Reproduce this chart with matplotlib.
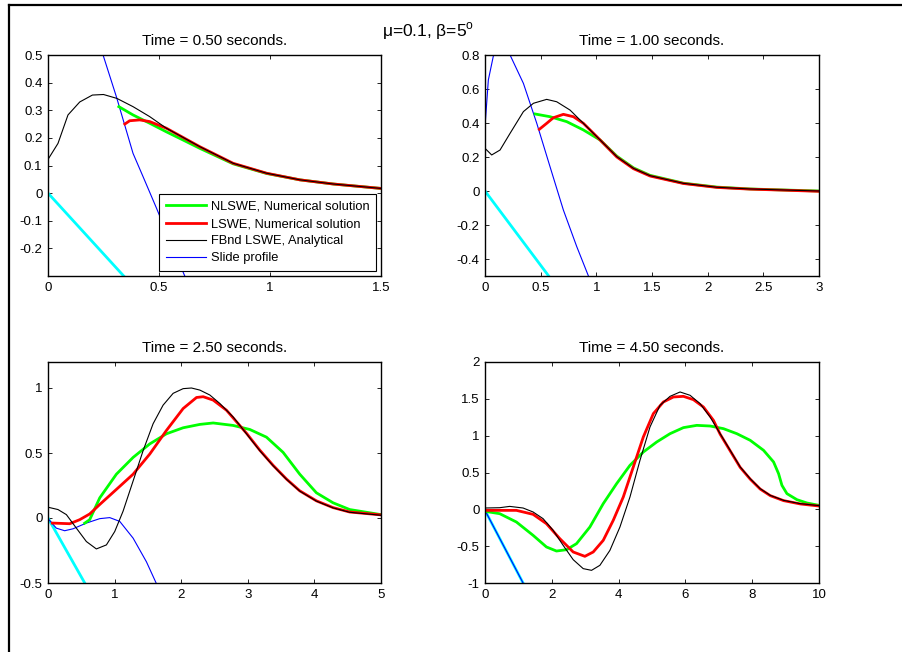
import matplotlib
matplotlib.use("Agg")
import matplotlib.pyplot as plt
from matplotlib.lines import Line2D

plt.rcParams['font.family'] = ['Liberation Sans', 'DejaVu Sans']
plt.rcParams['mathtext.fontset'] = 'custom'
plt.rcParams['mathtext.rm'] = 'Liberation Sans'

# ---- data ----
# t = 0.50 s
p1_black_x = [0, 0.045, 0.09, 0.143, 0.2, 0.25, 0.31, 0.383, 0.458, 0.533, 0.684, 0.834, 0.985, 1.135, 1.285, 1.5]
p1_black_y = [0.122, 0.18, 0.283, 0.33, 0.355, 0.357, 0.343, 0.313, 0.277, 0.235, 0.168, 0.108, 0.072, 0.048, 0.033, 0.017]
p1_green_x = [0.319, 0.383, 0.458, 0.533, 0.609, 0.684, 0.834, 0.985, 1.135, 1.285, 1.5]
p1_green_y = [0.313, 0.283, 0.253, 0.222, 0.192, 0.162, 0.106, 0.071, 0.048, 0.033, 0.017]
p1_red_x = [0.346, 0.368, 0.413, 0.458, 0.533, 0.684, 0.834, 0.985, 1.135, 1.285, 1.5]
p1_red_y = [0.25, 0.262, 0.265, 0.259, 0.235, 0.168, 0.108, 0.072, 0.048, 0.033, 0.017]
p1_blue_x = [0.248, 0.308, 0.383, 0.428, 0.489, 0.55, 0.616]
p1_blue_y = [0.5, 0.349, 0.144, 0.06, -0.055, -0.175, -0.3]
p1_cyan_x = [0, 0.341]
p1_cyan_y = [0, -0.3]

# t = 1.00 s
p2_black_x = [0, 0.06, 0.135, 0.225, 0.345, 0.435, 0.554, 0.644, 0.764, 0.884, 1.004, 1.184, 1.334, 1.483, 1.783, 2.083, 2.38, 2.68, 3.0]
p2_black_y = [0.251, 0.212, 0.241, 0.339, 0.467, 0.516, 0.539, 0.525, 0.476, 0.398, 0.32, 0.202, 0.133, 0.09, 0.045, 0.022, 0.012, 0.006, 0.0]
p2_green_x = [0.45, 0.584, 0.734, 0.884, 1.034, 1.184, 1.334, 1.483, 1.783, 2.083, 2.38, 2.68, 3.0]
p2_green_y = [0.453, 0.437, 0.408, 0.359, 0.3, 0.205, 0.136, 0.092, 0.046, 0.023, 0.012, 0.006, 0.0]
p2_red_x = [0.488, 0.554, 0.614, 0.704, 0.794, 0.884, 1.004, 1.184, 1.334, 1.483, 1.783, 2.083, 2.38, 2.68, 3.0]
p2_red_y = [0.363, 0.398, 0.431, 0.451, 0.437, 0.398, 0.32, 0.2, 0.131, 0.088, 0.044, 0.021, 0.011, 0.005, -0.002]
p2_blue_x = [0, 0.03, 0.075, 0.15, 0.225, 0.345, 0.465, 0.584, 0.704, 0.824, 0.929]
p2_blue_y = [0.378, 0.653, 0.794, 0.85, 0.8, 0.633, 0.398, 0.143, -0.112, -0.327, -0.5]
p2_cyan_x = [0, 0.572]
p2_cyan_y = [0, -0.5]

# t = 2.50 s
p3_black_x = [0, 0.15, 0.276, 0.426, 0.576, 0.726, 0.877, 1.002, 1.127, 1.278, 1.428, 1.578, 1.728, 1.879, 2.029, 2.154, 2.28, 2.43, 2.58, 2.78, 2.98, 3.18, 3.38, 3.58, 3.78, 4.03, 4.28, 4.53, 5.0]
p3_black_y = [0.083, 0.065, 0.026, -0.078, -0.181, -0.238, -0.207, -0.104, 0.052, 0.285, 0.518, 0.725, 0.868, 0.959, 0.995, 1.0, 0.984, 0.946, 0.881, 0.777, 0.648, 0.518, 0.402, 0.298, 0.207, 0.13, 0.078, 0.044, 0.021]
p3_red_x = [0.065, 0.326, 0.476, 0.626, 0.777, 1.027, 1.278, 1.528, 1.779, 2.029, 2.23, 2.33, 2.48, 2.68, 2.98, 3.18, 3.38, 3.58, 3.78, 4.03, 4.28, 4.53, 5.0]
p3_red_y = [-0.039, -0.044, -0.013, 0.031, 0.104, 0.22, 0.337, 0.492, 0.674, 0.842, 0.927, 0.933, 0.907, 0.829, 0.652, 0.522, 0.405, 0.3, 0.209, 0.132, 0.08, 0.046, 0.024]
p3_green_x = [0.55, 0.626, 0.777, 1.027, 1.278, 1.528, 1.779, 2.029, 2.28, 2.48, 2.78, 3.03, 3.28, 3.53, 3.78, 4.03, 4.28, 4.53, 5.0]
p3_green_y = [-0.04, -0.013, 0.155, 0.337, 0.466, 0.57, 0.648, 0.694, 0.72, 0.731, 0.712, 0.681, 0.622, 0.505, 0.337, 0.194, 0.117, 0.065, 0.026]
p3_blue_x = [0, 0.125, 0.25, 0.376, 0.576, 0.777, 0.927, 1.077, 1.278, 1.478, 1.628]
p3_blue_y = [-0.005, -0.078, -0.098, -0.083, -0.039, -0.005, 0.003, -0.026, -0.155, -0.337, -0.505]
p3_cyan_x = [0, 0.566]
p3_cyan_y = [0, -0.513]

# t = 4.50 s
p4_black_x = [0, 0.44, 0.74, 1.14, 1.44, 1.74, 2.04, 2.34, 2.64, 2.94, 3.19, 3.44, 3.74, 4.04, 4.34, 4.64, 4.94, 5.24, 5.54, 5.84, 6.14, 6.44, 6.74, 7.04, 7.34, 7.64, 7.94, 8.24, 8.54, 8.94, 9.44, 10.0]
p4_black_y = [0.018, 0.022, 0.04, 0.018, -0.036, -0.127, -0.285, -0.489, -0.683, -0.805, -0.828, -0.76, -0.557, -0.24, 0.167, 0.665, 1.118, 1.412, 1.534, 1.593, 1.548, 1.434, 1.253, 1.027, 0.801, 0.575, 0.416, 0.28, 0.19, 0.122, 0.077, 0.05]
p4_red_x = [0, 0.94, 1.44, 1.84, 2.24, 2.64, 2.99, 3.24, 3.54, 3.84, 4.14, 4.44, 4.74, 5.04, 5.34, 5.64, 5.94, 6.24, 6.54, 6.84, 7.04, 7.34, 7.64, 7.94, 8.24, 8.54, 8.94, 9.44, 10.0]
p4_red_y = [-0.014, -0.014, -0.068, -0.195, -0.398, -0.579, -0.638, -0.579, -0.421, -0.149, 0.167, 0.575, 0.982, 1.299, 1.457, 1.525, 1.534, 1.489, 1.389, 1.208, 1.02, 0.795, 0.57, 0.41, 0.275, 0.186, 0.118, 0.073, 0.045]
p4_green_x = [0, 0.44, 0.94, 1.44, 1.84, 2.14, 2.44, 2.74, 3.14, 3.54, 3.94, 4.34, 4.74, 5.14, 5.54, 5.94, 6.34, 6.74, 7.14, 7.54, 7.94, 8.34, 8.64, 8.79, 8.89, 9.04, 9.34, 9.64, 10.0]
p4_green_y = [-0.027, -0.059, -0.172, -0.353, -0.511, -0.566, -0.548, -0.466, -0.24, 0.077, 0.348, 0.597, 0.778, 0.914, 1.027, 1.109, 1.14, 1.131, 1.095, 1.027, 0.937, 0.801, 0.643, 0.484, 0.326, 0.213, 0.131, 0.086, 0.054]
p4_blue_x = [0, 1.14]
p4_blue_y = [-0.014, -1.0]
p4_cyan_x = [0, 1.14]
p4_cyan_y = [-0.014, -1.0]

panels = [
    dict(title="Time = 0.50 seconds.", xlim=(0, 1.5), ylim=(-0.3, 0.5),
         xticks=[0, 0.5, 1, 1.5], yticks=[-0.2, -0.1, 0, 0.1, 0.2, 0.3, 0.4, 0.5],
         xlab=["0", "0.5", "1", "1.5"], ylab=["-0.2", "-0.1", "0", "0.1", "0.2", "0.3", "0.4", "0.5"],
         green=(p1_green_x, p1_green_y), red=(p1_red_x, p1_red_y), black=(p1_black_x, p1_black_y),
         blue=(p1_blue_x, p1_blue_y), cyan=(p1_cyan_x, p1_cyan_y),
         pos=[48, 55, 381, 276]),
    dict(title="Time = 1.00 seconds.", xlim=(0, 3), ylim=(-0.5, 0.8),
         xticks=[0, 0.5, 1, 1.5, 2, 2.5, 3], yticks=[-0.4, -0.2, 0, 0.2, 0.4, 0.6, 0.8],
         xlab=["0", "0.5", "1", "1.5", "2", "2.5", "3"], ylab=["-0.4", "-0.2", "0", "0.2", "0.4", "0.6", "0.8"],
         green=(p2_green_x, p2_green_y), red=(p2_red_x, p2_red_y), black=(p2_black_x, p2_black_y),
         blue=(p2_blue_x, p2_blue_y), cyan=(p2_cyan_x, p2_cyan_y),
         pos=[485, 55, 819, 276]),
    dict(title="Time = 2.50 seconds.", xlim=(0, 5), ylim=(-0.5, 1.2),
         xticks=[0, 1, 2, 3, 4, 5], yticks=[-0.5, 0, 0.5, 1],
         xlab=["0", "1", "2", "3", "4", "5"], ylab=["-0.5", "0", "0.5", "1"],
         green=(p3_green_x, p3_green_y), red=(p3_red_x, p3_red_y), black=(p3_black_x, p3_black_y),
         blue=(p3_blue_x, p3_blue_y), cyan=(p3_cyan_x, p3_cyan_y),
         pos=[48, 362, 381, 583]),
    dict(title="Time = 4.50 seconds.", xlim=(0, 10), ylim=(-1, 2),
         xticks=[0, 2, 4, 6, 8, 10], yticks=[-1, -0.5, 0, 0.5, 1, 1.5, 2],
         xlab=["0", "2", "4", "6", "8", "10"], ylab=["-1", "-0.5", "0", "0.5", "1", "1.5", "2"],
         green=(p4_green_x, p4_green_y), red=(p4_red_x, p4_red_y), black=(p4_black_x, p4_black_y),
         blue=(p4_blue_x, p4_blue_y), cyan=(p4_cyan_x, p4_cyan_y),
         pos=[485, 362, 819, 583]),
]

W, H = 903, 652
fig = plt.figure(figsize=(W / 100, H / 100), dpi=100)

for i, p in enumerate(panels):
    x0, y0, x1, y1 = p["pos"]
    ax = fig.add_axes([x0 / W, 1 - y1 / H, (x1 - x0) / W, (y1 - y0) / H])
    ax.plot(*p["cyan"], color="#00ffff", lw=2)
    ax.plot(*p["blue"], color="#0000ff", lw=0.8)
    ax.plot(*p["green"], color="#00ff00", lw=2, label="NLSWE, Numerical solution")
    ax.plot(*p["red"], color="#ff0000", lw=2, label="LSWE, Numerical solution")
    ax.plot(*p["black"], color="black", lw=0.8, label="FBnd LSWE, Analytical")
    ax.set_xlim(*p["xlim"])
    ax.set_ylim(*p["ylim"])
    ax.set_xticks(p["xticks"])
    ax.set_xticklabels(p["xlab"])
    ax.set_yticks(p["yticks"])
    ax.set_yticklabels(p["ylab"])
    ax.tick_params(direction="in", length=3, width=0.6, top=True, right=True,
                   labelsize=9.5, pad=4, colors="black")
    for s in ax.spines.values():
        s.set_linewidth(1.0)
    ax.set_title(p["title"], fontsize=11, pad=7)
    if i == 0:
        h, l = ax.get_legend_handles_labels()
        h.append(Line2D([], [], color="#0000ff", lw=0.8))
        l.append("Slide profile")
        leg = ax.legend(h, l, loc="lower right", bbox_to_anchor=(0.985, 0.023),
                        borderaxespad=0, fontsize=9.3, handlelength=3.1,
                        fancybox=False, framealpha=1, edgecolor="black",
                        borderpad=0.5, labelspacing=0.4, handletextpad=0.4)
        leg.get_frame().set_linewidth(0.8)

fig.text(428 / W, 1 - 31 / H, r"μ=0.1, β=5$^{\rm o}$", ha="center", va="center", fontsize=12.5)

# outer frame (top and left edges visible)
fig.add_artist(Line2D([8.5 / W, 1], [1 - 4.5 / H, 1 - 4.5 / H], color="black", lw=1.6,
                      transform=fig.transFigure))
fig.add_artist(Line2D([8.5 / W, 8.5 / W], [0, 1 - 4.5 / H], color="black", lw=1.6,
                      transform=fig.transFigure))

fig.savefig("out.png", dpi=100)
